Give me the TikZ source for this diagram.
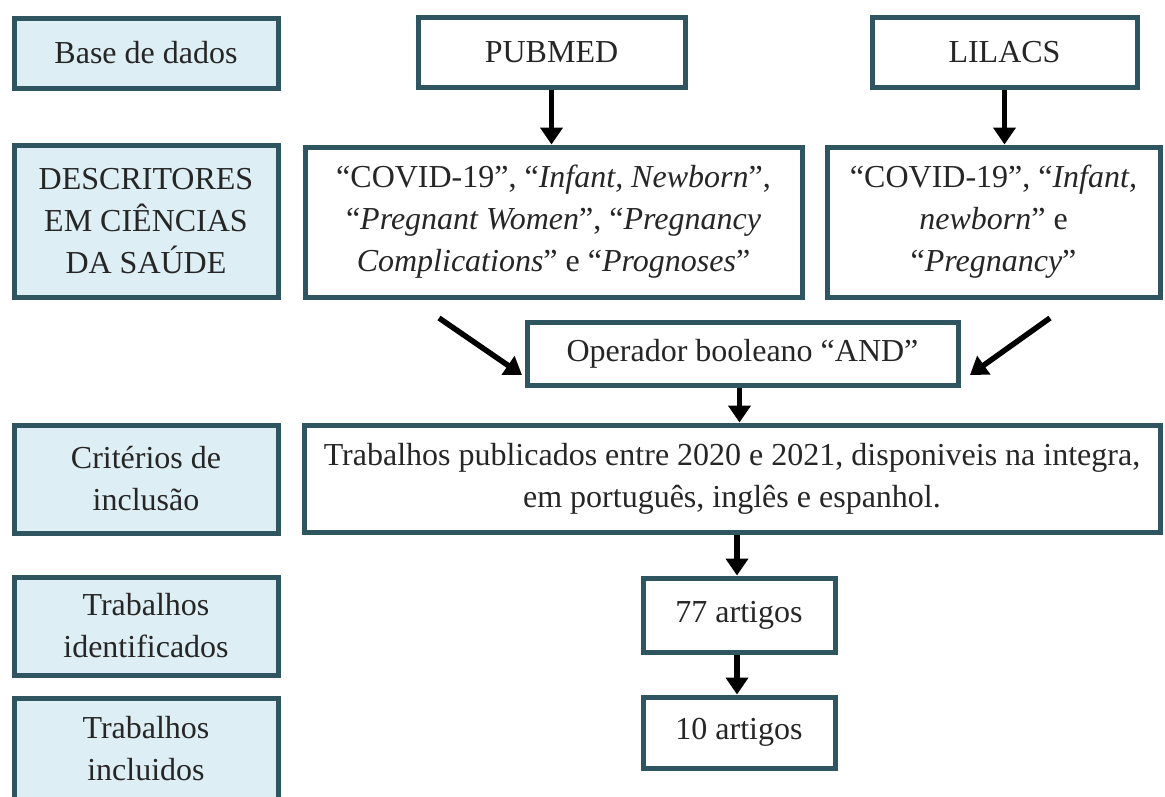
\documentclass[tikz,border=0pt]{standalone}
\usepackage{fontspec}
\setmainfont{Liberation Serif}
\usetikzlibrary{arrows.meta}
\definecolor{bordc}{HTML}{2E5560}
\definecolor{lblue}{HTML}{DDEEF4}
\tikzset{
  box/.style={draw=bordc, line width=5pt, rectangle, align=center, inner sep=0pt,
    font=\fontsize{32}{42}\selectfont, text=black!85},
  lbox/.style={box, fill=lblue},
  wbox/.style={box, fill=white},
  arr/.style={line width=5.5pt, -{Triangle[width=22pt,length=17pt]}, black},
}
\begin{document}
\begin{tikzpicture}[x=1pt,y=-1pt]
\useasboundingbox (0,0) rectangle (1165,796);
\clip (0,0) rectangle (1165,796);
% left column
\node[lbox, minimum width=264pt, minimum height=70pt] (base) at (146,53) {Base de dados};
\node[lbox, minimum width=264pt, minimum height=152pt] (desc) at (146,221) {DESCRITORES\\EM CIÊNCIAS\\DA SAÚDE};
\node[lbox, minimum width=264pt, minimum height=108pt] (crit) at (146,479) {Critérios de\\inclusão};
\node[lbox, minimum width=264pt, minimum height=98pt] (ident) at (146,626) {Trabalhos\\identificados};
\node[lbox, minimum width=264pt, minimum height=102pt] (incl) at (146,749) {Trabalhos\\incluidos};
% right part
\node[wbox, minimum width=267pt, minimum height=70pt] (pubmed) at (551.5,52) {PUBMED};
\node[wbox, minimum width=265pt, minimum height=70pt] (lilacs) at (1004.5,52) {LILACS};
\node[wbox, minimum width=497pt, minimum height=150pt] (pubdesc) at (553.5,222)
  {“COVID-19”, “\textit{Infant, Newborn}”,\\“\textit{Pregnant Women}”, “\textit{Pregnancy}\\\textit{Complications}” e “\textit{Prognoses}”};
\node[wbox, minimum width=333pt, minimum height=150pt] (lildesc) at (993.5,222)
  {“COVID-19”, “\textit{Infant,}\\\textit{newborn}” e\\“\textit{Pregnancy}”};
\node[wbox, minimum width=431pt, minimum height=63pt] (and) at (742.5,353.5) {Operador booleano “AND”};
\node[wbox, minimum width=856pt, minimum height=107pt] (incr) at (732,478.5)
  {Trabalhos publicados entre 2020 e 2021, disponiveis na integra,\\em português, inglês e espanhol.};
\node[wbox, minimum width=192pt, minimum height=74pt] (n77) at (739,615) {77 artigos};
\node[wbox, minimum width=192pt, minimum height=71pt] (n10) at (739,732.5) {10 artigos};
% arrows
\coordinate (la) at (439,318);
\coordinate (lt) at (522,375);
\coordinate (ra) at (1050,318);
\coordinate (rt) at (970,375);
\draw[arr] (pubmed.south) -- (pubmed.south |- pubdesc.north);
\draw[arr] (lilacs.south) -- (lilacs.south |- lildesc.north);
\draw[arr] (la) -- (lt);
\draw[arr] (ra) -- (rt);
\draw[arr] ([xshift=-3pt]and.south) -- ([xshift=-3pt]and.south |- incr.north);
\draw[arr] ([xshift=-2pt]incr.south -| n77.north) -- ([xshift=-2pt]n77.north);
\draw[arr] ([xshift=-2pt]n77.south) -- ([xshift=-2pt]n10.north);
\end{tikzpicture}
\end{document}
